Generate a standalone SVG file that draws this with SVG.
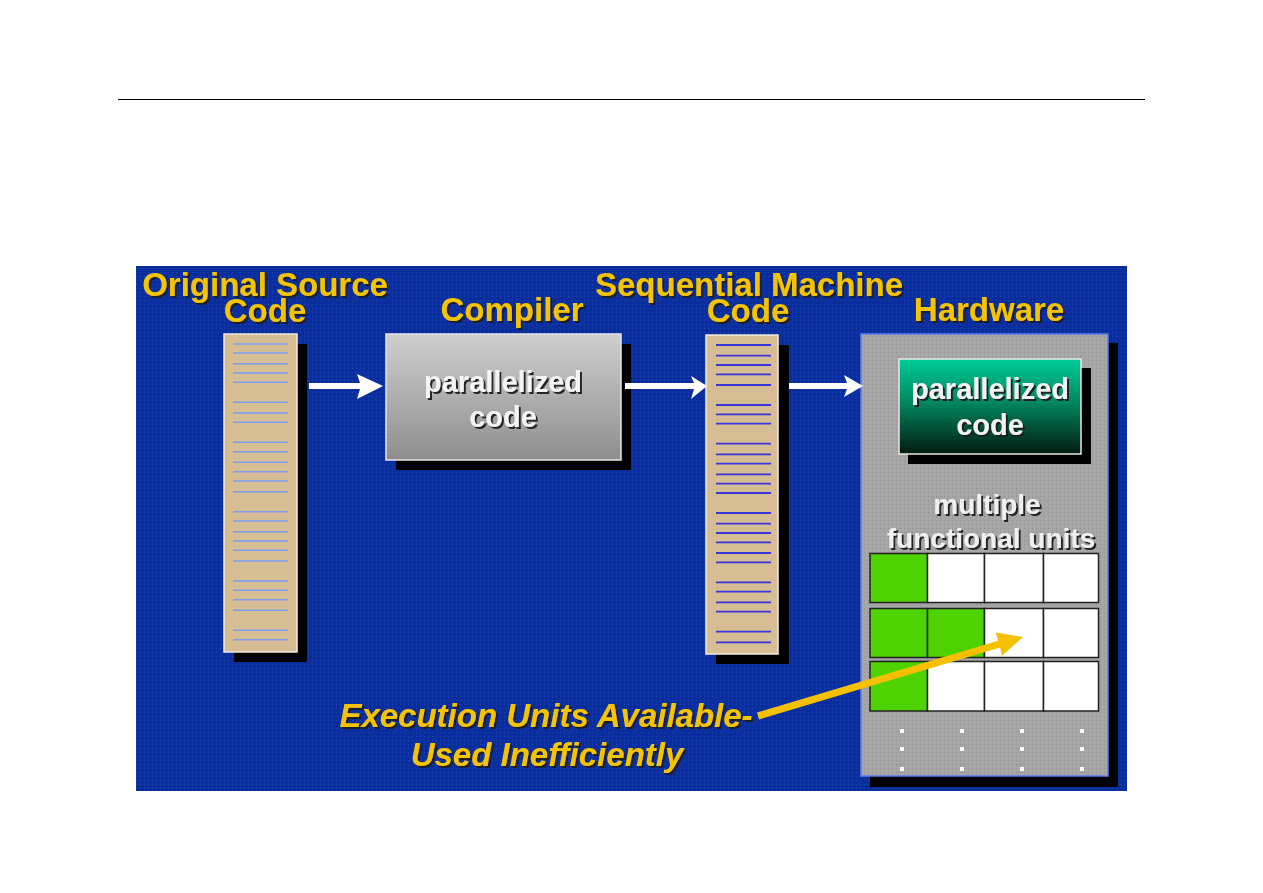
<svg xmlns="http://www.w3.org/2000/svg" width="1263" height="893" viewBox="0 0 1263 893">
  <style>
    .lbl{font-family:"Liberation Sans",Arial,sans-serif;font-weight:bold;font-size:33px;fill:#f5c400;text-anchor:middle;filter:url(#tsh)}
    .wt{font-family:"Liberation Sans",Arial,sans-serif;font-weight:bold;font-size:29px;fill:#f4f4f4;text-anchor:middle;filter:url(#tsh)}
    .hw{font-family:"Liberation Sans",Arial,sans-serif;font-weight:bold;font-size:28px;fill:#f0f0f0;text-anchor:middle;filter:url(#tsh)}
    .it{font-family:"Liberation Sans",Arial,sans-serif;font-weight:bold;font-style:italic;font-size:33px;fill:#f5c400;text-anchor:middle;filter:url(#tsh)}
    .shadow{fill:#000}
    .col{fill:#d6bd93;stroke:#f2ece0;stroke-width:1.5}
    .l1{stroke:#7c9cf2;stroke-width:1.6}
    .l2{stroke:#3a36de;stroke-width:1.8}
    .cell{fill:#fff;stroke:#222;stroke-width:1.5}
    .g{fill:#4ed200}
    .dot{fill:#fff}
    .wa{fill:#fff}
  </style>
  <defs>
    <filter id="tsh" x="-10%" y="-20%" width="130%" height="150%">
      <feDropShadow dx="2" dy="2" stdDeviation="0.6" flood-color="#1a1a1a" flood-opacity="0.95"/>
    </filter>
    <linearGradient id="gray" x1="0" y1="0" x2="0" y2="1">
      <stop offset="0" stop-color="#cfcfcf"/>
      <stop offset="1" stop-color="#8e8e8e"/>
    </linearGradient>
    <linearGradient id="teal" x1="0" y1="0" x2="0" y2="1">
      <stop offset="0" stop-color="#00cc99"/>
      <stop offset="0.45" stop-color="#00885f"/>
      <stop offset="1" stop-color="#021a10"/>
    </linearGradient>
    <pattern id="bgp" width="4" height="4" patternUnits="userSpaceOnUse">
      <rect width="4" height="4" fill="#0b2e9f"/>
      <rect width="1" height="1" fill="#1f44b0"/>
    </pattern>
    <pattern id="grp" width="4" height="4" patternUnits="userSpaceOnUse">
      <rect width="4" height="4" fill="#a6a6a6"/>
      <rect width="1" height="1" fill="#8f8f8f"/>
    </pattern>
  </defs>

  <rect width="1263" height="893" fill="#fff"/>
  <line x1="118" y1="99.5" x2="1145" y2="99.5" stroke="#000" stroke-width="1.2"/>

  <rect id="background" x="136" y="266" width="991" height="525" fill="url(#bgp)"/>

  <!-- titles -->
  <g id="title-source">
    <text class="lbl" x="265" y="296">Original Source</text>
    <text class="lbl" x="265" y="322">Code</text>
  </g>
  <g id="title-compiler">
    <text class="lbl" x="512" y="321">Compiler</text>
  </g>
  <g id="title-machine">
    <text class="lbl" x="749" y="296">Sequential Machine</text>
    <text class="lbl" x="748" y="322">Code</text>
  </g>
  <g id="title-hardware">
    <text class="lbl" x="989" y="321">Hardware</text>
  </g>

  <!-- source code column -->
  <g id="source-code">
    <rect class="shadow" x="234" y="344" width="73" height="318"/>
    <rect class="col" x="224" y="334" width="73" height="318"/>
    <g class="l1">
      <line x1="233" y1="344" x2="288" y2="344"/>
      <line x1="233" y1="353" x2="288" y2="353"/>
      <line x1="233" y1="363.7" x2="288" y2="363.7"/>
      <line x1="233" y1="373" x2="288" y2="373"/>
      <line x1="233" y1="382.3" x2="288" y2="382.3"/>
      <line x1="233" y1="402.3" x2="288" y2="402.3"/>
      <line x1="233" y1="413" x2="288" y2="413"/>
      <line x1="233" y1="422.3" x2="288" y2="422.3"/>
      <line x1="233" y1="442.3" x2="288" y2="442.3"/>
      <line x1="233" y1="451.7" x2="288" y2="451.7"/>
      <line x1="233" y1="462.3" x2="288" y2="462.3"/>
      <line x1="233" y1="471.7" x2="288" y2="471.7"/>
      <line x1="233" y1="481" x2="288" y2="481"/>
      <line x1="233" y1="491.7" x2="288" y2="491.7"/>
      <line x1="233" y1="511.7" x2="288" y2="511.7"/>
      <line x1="233" y1="521" x2="288" y2="521"/>
      <line x1="233" y1="531.7" x2="288" y2="531.7"/>
      <line x1="233" y1="541" x2="288" y2="541"/>
      <line x1="233" y1="550.3" x2="288" y2="550.3"/>
      <line x1="233" y1="561" x2="288" y2="561"/>
      <line x1="233" y1="581" x2="288" y2="581"/>
      <line x1="233" y1="590.3" x2="288" y2="590.3"/>
      <line x1="233" y1="599.7" x2="288" y2="599.7"/>
      <line x1="233" y1="610.3" x2="288" y2="610.3"/>
      <line x1="233" y1="630.3" x2="288" y2="630.3"/>
      <line x1="233" y1="639.7" x2="288" y2="639.7"/>
    </g>
  </g>

  <!-- compiler box -->
  <g id="compiler">
    <rect class="shadow" x="396" y="344" width="235" height="126"/>
    <rect x="386" y="334" width="235" height="126" fill="url(#gray)" stroke="#e6e6e6" stroke-width="1.5"/>
    <text class="wt" x="503" y="392">parallelized</text>
    <text class="wt" x="503" y="427">code</text>
  </g>

  <!-- sequential machine code column -->
  <g id="machine-code">
    <rect class="shadow" x="716" y="345" width="73" height="319"/>
    <rect class="col" x="706" y="335" width="72" height="319"/>
    <g class="l2">
      <line x1="716" y1="345" x2="771" y2="345"/>
      <line x1="716" y1="355.7" x2="771" y2="355.7"/>
      <line x1="716" y1="365" x2="771" y2="365"/>
      <line x1="716" y1="374.3" x2="771" y2="374.3"/>
      <line x1="716" y1="385" x2="771" y2="385"/>
      <line x1="716" y1="405" x2="771" y2="405"/>
      <line x1="716" y1="414.3" x2="771" y2="414.3"/>
      <line x1="716" y1="423.7" x2="771" y2="423.7"/>
      <line x1="716" y1="443.7" x2="771" y2="443.7"/>
      <line x1="716" y1="454.3" x2="771" y2="454.3"/>
      <line x1="716" y1="463.7" x2="771" y2="463.7"/>
      <line x1="716" y1="474.3" x2="771" y2="474.3"/>
      <line x1="716" y1="483.7" x2="771" y2="483.7"/>
      <line x1="716" y1="493" x2="771" y2="493"/>
      <line x1="716" y1="513" x2="771" y2="513"/>
      <line x1="716" y1="523.7" x2="771" y2="523.7"/>
      <line x1="716" y1="533" x2="771" y2="533"/>
      <line x1="716" y1="542.3" x2="771" y2="542.3"/>
      <line x1="716" y1="553" x2="771" y2="553"/>
      <line x1="716" y1="562.3" x2="771" y2="562.3"/>
      <line x1="716" y1="582.3" x2="771" y2="582.3"/>
      <line x1="716" y1="591.7" x2="771" y2="591.7"/>
      <line x1="716" y1="602.3" x2="771" y2="602.3"/>
      <line x1="716" y1="611.7" x2="771" y2="611.7"/>
      <line x1="716" y1="631.7" x2="771" y2="631.7"/>
      <line x1="716" y1="642.3" x2="771" y2="642.3"/>
    </g>
  </g>

  <!-- hardware -->
  <g id="hardware">
    <rect class="shadow" x="870" y="343" width="248" height="444"/>
    <rect x="861" y="334" width="247" height="442" fill="url(#grp)" stroke="#5a7cf0" stroke-width="1.5"/>
  </g>
  <g id="hw-parallelized-code">
    <rect class="shadow" x="908" y="368" width="183" height="96"/>
    <rect x="899" y="359" width="182" height="95" fill="url(#teal)" stroke="#e8e8e8" stroke-width="1.5"/>
    <text class="wt" x="990" y="399">parallelized</text>
    <text class="wt" x="990" y="435">code</text>
  </g>
  <g id="hw-label">
    <text class="hw" x="987" y="514">multiple</text>
    <text class="hw" x="991" y="548">functional units</text>
  </g>
  <g id="functional-units">
    <rect class="cell g" x="870" y="553.5" width="57.5" height="49"/>
    <rect class="cell" x="927.5" y="553.5" width="57" height="49"/>
    <rect class="cell" x="984.5" y="553.5" width="59" height="49"/>
    <rect class="cell" x="1043.5" y="553.5" width="55" height="49"/>

    <rect class="cell g" x="870" y="608.5" width="57.5" height="49"/>
    <rect class="cell g" x="927.5" y="608.5" width="57" height="49"/>
    <rect class="cell" x="984.5" y="608.5" width="59" height="49"/>
    <rect class="cell" x="1043.5" y="608.5" width="55" height="49"/>

    <rect class="cell g" x="870" y="661.5" width="57.5" height="49.5"/>
    <rect class="cell" x="927.5" y="661.5" width="57" height="49.5"/>
    <rect class="cell" x="984.5" y="661.5" width="59" height="49.5"/>
    <rect class="cell" x="1043.5" y="661.5" width="55" height="49.5"/>
  </g>
  <g id="more-dots">
    <rect class="dot" x="900" y="729" width="4" height="4"/>
    <rect class="dot" x="960" y="729" width="4" height="4"/>
    <rect class="dot" x="1020" y="729" width="4" height="4"/>
    <rect class="dot" x="1080" y="729" width="4" height="4"/>
    <rect class="dot" x="900" y="747" width="4" height="4"/>
    <rect class="dot" x="960" y="747" width="4" height="4"/>
    <rect class="dot" x="1020" y="747" width="4" height="4"/>
    <rect class="dot" x="1080" y="747" width="4" height="4"/>
    <rect class="dot" x="900" y="767" width="4" height="4"/>
    <rect class="dot" x="960" y="767" width="4" height="4"/>
    <rect class="dot" x="1020" y="767" width="4" height="4"/>
    <rect class="dot" x="1080" y="767" width="4" height="4"/>
  </g>

  <!-- callout -->
  <g id="callout">
    <text class="it" x="546" y="727">Execution Units Available-</text>
    <text class="it" x="547" y="766">Used Inefficiently</text>
  </g>

  <!-- connectors -->
  <g id="connectors">
    <path class="wa" d="M309,383 L360,383 L357,374 L383,386 L357,399 L360,389 L309,389 Z"/>
    <path class="wa" d="M625,383 L694,383 L691,376 L707,386 L691,399 L694,389 L625,389 Z"/>
    <path class="wa" d="M789,383 L847,383 L844,375 L863,386 L844,397 L847,389 L789,389 Z"/>
    <path d="M757,712.6 L998,640.8 L995.9,632.6 L1023,637 L1002.1,655.6 L1000,647.5 L759,719.4 Z" fill="#f5c000"/>
  </g>
</svg>
